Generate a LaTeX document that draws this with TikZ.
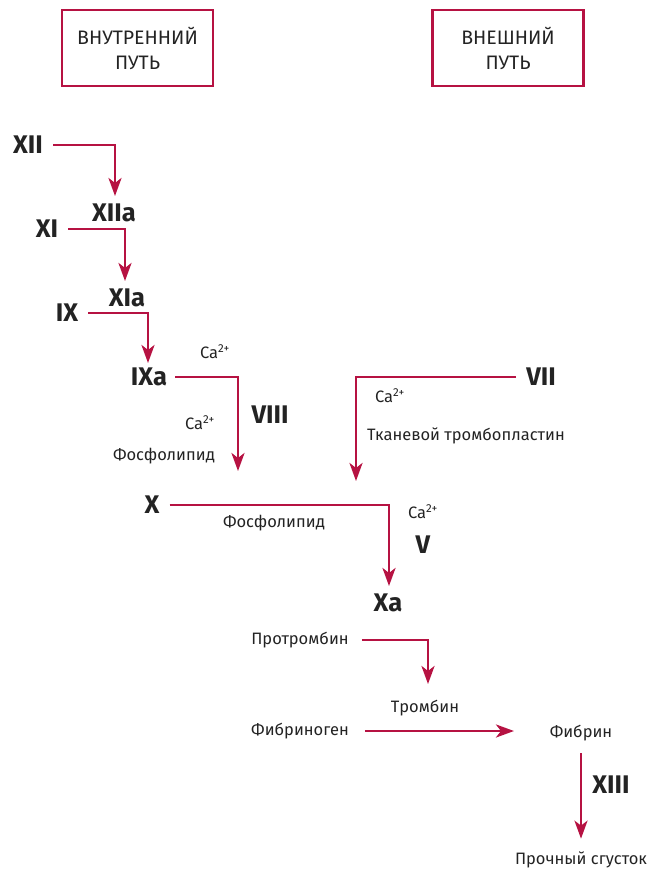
\documentclass[tikz,border=0pt]{standalone}
\usepackage{fontspec}
\setmainfont{Fira Sans}
\usetikzlibrary{arrows.meta}
\definecolor{crim}{RGB}{182,18,66}
\definecolor{txt}{RGB}{35,35,35}
\tikzset{
  lab/.style={font=\fontsize{16.5}{18}\selectfont, text=txt, inner sep=0pt},
  big/.style={font=\bfseries\fontsize{25.5}{27}\selectfont, text=txt, inner sep=0pt},
  conn/.style={draw=crim, line width=2.8pt},
  arr/.style={conn, -{Stealth[length=18pt,width=13pt,inset=5pt]}},
  pathbox/.style={draw=crim, line width=2.8pt, minimum width=151pt, minimum height=76pt,
    align=center, text=txt, font=\fontsize{19.5}{25}\selectfont, inner sep=0pt}
}
\begin{document}
\begin{tikzpicture}[x=1pt,y=-1pt]
\useasboundingbox (0,0) rectangle (655,872);
% header boxes
\node[pathbox] (intr) at (137.5,48) {ВНУТРЕННИЙ\\ПУТЬ};
\node[pathbox] (extr) at (508,48) {ВНЕШНИЙ\\ПУТЬ};
% factor labels
\node[big] (XII) at (28,145) {XII};
\node[big] (XIIa) at (114,213) {XIIa};
\node[big] (XI) at (47,229) {XI};
\node[big] (XIa) at (127,298) {XIa};
\node[big] (IX) at (67,313) {IX};
\node[big] (IXa) at (149,377) {IXa};
\node[big] (VIII) at (270,415) {VIII};
\node[big] (VII) at (541,377) {VII};
\node[big] (X) at (152,505) {X};
\node[big] (V) at (423,545) {V};
\node[big] (Xa) at (388,603) {Xa};
\node[big] (XIII) at (611,785) {XIII};
% small labels
\node[lab] (ca1) at (215,352) {Ca\textsuperscript{2+}};
\node[lab] (ca2) at (200,423) {Ca\textsuperscript{2+}};
\node[lab] (fos1) at (164,456) {Фосфолипид};
\node[lab] (ca3) at (390,396) {Ca\textsuperscript{2+}};
\node[lab] (tkan) at (466,436) {Тканевой тромбопластин};
\node[lab] (fos2) at (274,523) {Фосфолипид};
\node[lab] (ca4) at (423,512) {Ca\textsuperscript{2+}};
\node[lab] (prot) at (300,640) {Протромбин};
\node[lab] (trom) at (425,708) {Тромбин};
\node[lab] (fibg) at (300,731) {Фибриноген};
\node[lab] (fibr) at (581,733) {Фибрин};
\node[lab] (clot) at (581,860) {Прочный сгусток};
% free ends of the connectors
\coordinate (e1) at (238,471);
\coordinate (e2) at (356,481);
\coordinate (e3) at (115,196);
\coordinate (e4) at (125,281);
\coordinate (e5) at (148,363);
\coordinate (e6) at (389,586);
\coordinate (e7) at (428,684);
\coordinate (e8) at (514,731);
% connectors
\draw[arr] ([xshift=10pt]XII.east) -| (e3);
\draw[arr] ([xshift=10pt]XI.east) -| (e4);
\draw[arr] ([xshift=10pt]IX.east) -| (e5);
\draw[arr] ([xshift=8pt]IXa.east) -| (e1);
\draw[arr] ([xshift=-10pt]VII.west) -| (e2);
\draw[arr] ([xshift=10pt]X.east) -| (e6);
\draw[arr] ([xshift=13pt]prot.east) -| (e7);
\draw[arr] ([xshift=16pt]fibg.east) -- (fibg.east -| e8);
\draw[arr] ([yshift=-12pt]fibr.south) -- ([yshift=13pt]clot.north);
\end{tikzpicture}
\end{document}
